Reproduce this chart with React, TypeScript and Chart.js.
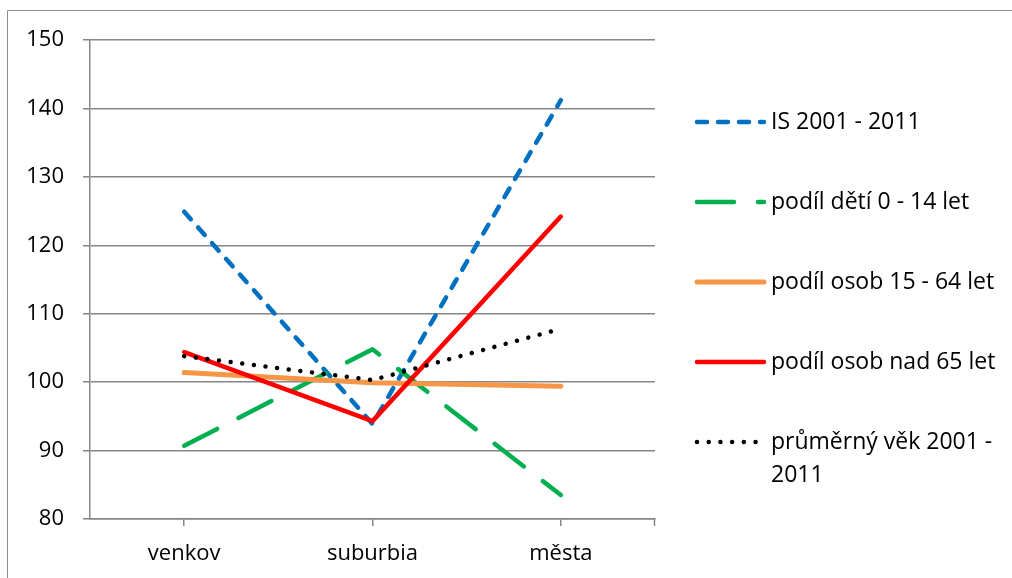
import React, { useEffect, useRef } from "react";
import { Chart, registerables } from "chart.js";

Chart.register(...registerables);

const categories = ["venkov", "suburbia", "města"];
const seriesNames: string[][] = [
  ["IS 2001 - 2011"],
  ["podíl dětí 0 - 14 let"],
  ["podíl osob 15 - 64 let"],
  ["podíl osob nad 65 let"],
  ["průměrný věk 2001 -", "2011"],
];
const isValues = [124.9, 93.9, 141.2];
const detiValues = [90.7, 104.8, 83.5];
const osob1564Values = [101.4, 99.9, 99.4];
const osob65Values = [104.4, 94.3, 124.2];
const vekValues = [103.8, 100.3, 107.8];
const yMin = 80;
const yMax = 150;
const yStep = 10;

const FONT = "'Open Sans', sans-serif";
const GRID = "#868686";

const sideLegend = {
  id: "sideLegend",
  afterDraw(chart: any) {
    const ctx = chart.ctx as CanvasRenderingContext2D;
    ctx.save();
    // outer frame
    ctx.setLineDash([]);
    ctx.strokeStyle = "#8c8c8c";
    ctx.lineWidth = 1;
    ctx.beginPath();
    ctx.moveTo(7.5, 578);
    ctx.lineTo(7.5, 10.5);
    ctx.lineTo(1012, 10.5);
    ctx.stroke();
    // right end tick of category axis
    const area = chart.chartArea;
    ctx.strokeStyle = GRID;
    ctx.lineWidth = 1.5;
    ctx.beginPath();
    ctx.moveTo(Math.round(area.right) - 0.5, area.bottom);
    ctx.lineTo(Math.round(area.right) - 0.5, area.bottom + 7);
    ctx.stroke();
    // legend
    const x0 = 697;
    const x1 = 764;
    const tx = 771;
    ctx.font = `23px ${FONT}`;
    ctx.textBaseline = "middle";
    ctx.textAlign = "left";
    chart.data.datasets.forEach((ds: any, i: number) => {
      const y = 122 + i * 80;
      ctx.save();
      ctx.strokeStyle = ds.borderColor;
      ctx.lineWidth = ds.borderWidth;
      ctx.lineCap = "round";
      ctx.setLineDash(ds.borderDash || []);
      ctx.beginPath();
      ctx.moveTo(x0, y);
      ctx.lineTo(x1, y);
      ctx.stroke();
      ctx.restore();
      ctx.fillStyle = "#000";
      const lines: string[] = seriesNames[i];
      lines.forEach((ln, j) => ctx.fillText(ln, tx, y + j * 33));
    });
    ctx.restore();
  },
};

export default function App() {
  const ref = useRef<HTMLCanvasElement>(null);
  useEffect(() => {
    document.body.style.margin = "0";
    const mk = (i: number, data: number[], color: string, width: number, dash: number[]) => ({
      label: seriesNames[i].join(" "),
      data,
      borderColor: color,
      backgroundColor: color,
      borderWidth: width,
      borderDash: dash,
      borderCapStyle: "round" as const,
      borderJoinStyle: "round" as const,
      pointRadius: 0,
      pointHoverRadius: 0,
      tension: 0,
      fill: false,
      order: 5 - i,
    });
    const chart = new Chart(ref.current!, {
      type: "line",
      data: {
        labels: categories,
        datasets: [
          mk(0, isValues, "#0070C0", 4.5, [10, 11]),
          mk(1, detiValues, "#00B050", 4.5, [37, 24]),
          mk(2, osob1564Values, "#F79646", 5, []),
          mk(3, osob65Values, "#FF0000", 4.5, []),
          mk(4, vekValues, "#000000", 4.5, [0.01, 11.7]),
        ],
      },
      options: {
        animation: false,
        responsive: false,
        maintainAspectRatio: false,
        devicePixelRatio: 1,
        layout: { padding: { left: 0, right: 357, top: 40, bottom: 0 } },
        plugins: { legend: { display: false }, tooltip: { enabled: false } },
        scales: {
          x: {
            type: "category",
            offset: true,
            grid: {
              display: true,
              drawOnChartArea: false,
              drawTicks: true,
              tickLength: 7,
              offset: false,
              color: GRID,
              lineWidth: 1.5,
            },
            border: { display: true, color: GRID, width: 1.5 },
            ticks: { color: "#000", font: { family: FONT, size: 22 }, padding: 15 },
            afterFit: (s: any) => {
              s.height = 59;
            },
          },
          y: {
            min: yMin,
            max: yMax,
            grid: { color: GRID, lineWidth: 1.5, tickLength: 7, drawTicks: true },
            border: { display: true, color: GRID, width: 1.5 },
            ticks: {
              stepSize: yStep,
              color: "#000",
              font: { family: FONT, size: 22 },
              padding: 19,
            },
            afterFit: (s: any) => {
              s.width = 90;
            },
          },
        },
      },
      plugins: [sideLegend],
    });
    return () => chart.destroy();
  }, []);
  return <canvas ref={ref} width={1012} height={578} style={{ display: "block" }} />;
}
